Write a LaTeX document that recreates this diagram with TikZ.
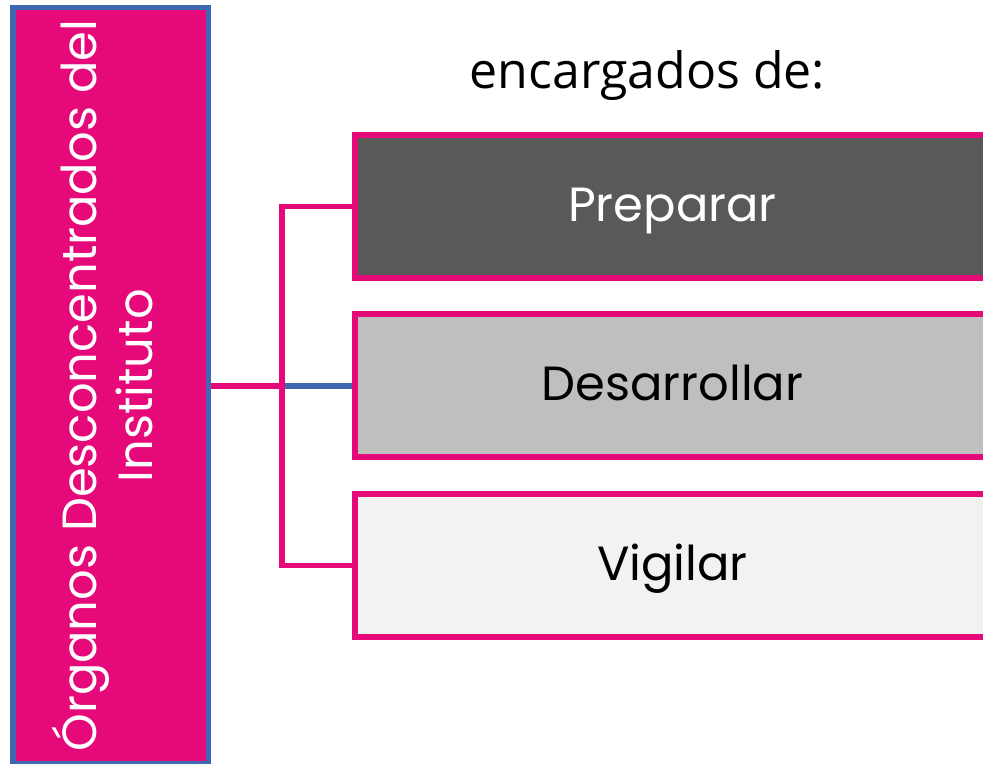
\documentclass[tikz,border=0pt]{standalone}
\usepackage{fontspec}
\usepackage{graphicx}
\setmainfont{Poppins}
\newfontfamily\titlefont{Open Sans}
\usetikzlibrary{positioning}
\definecolor{rosa}{HTML}{E6097A}
\definecolor{azul}{HTML}{4068B0}
\definecolor{grisosc}{HTML}{595959}
\definecolor{grismed}{HTML}{BFBFBF}
\definecolor{grisclr}{HTML}{F2F2F2}
\tikzset{
	organo/.style={draw=azul,fill=rosa,line width=4.2pt,minimum width=146.6pt,minimum height=567.4pt,text=white,inner sep=0pt,font=\fontsize{36}{42}\selectfont},
	tarea/.style={draw=rosa,line width=4.2pt,minimum width=476.25pt,minimum height=107.25pt,inner sep=0pt,text height=26pt,text depth=4pt,font=\fontsize{36}{42}\selectfont},
	titulo/.style={font=\titlefont\fontsize{37.5}{44}\selectfont,anchor=base},
	conn/.style={draw=rosa,line width=4.2pt},
	conn2/.style={draw=azul,line width=4.2pt}
}

\begin{document}
\begin{tikzpicture}[x=0.75pt,y=-0.75pt]
	\useasboundingbox (0,0) rectangle (983,764);
	\clip (0,0) rectangle (983,764);
	%%% organo
	\node[organo] (org) at (110.75,385.75) {\rotatebox{90}{\begin{tabular}{@{}c@{}}Órganos Desconcentrados del\\Instituto\end{tabular}}};
	
	%%% titulo
	\node[titulo] (tit) at (647.5,88) {encargados de:};
	
	%%% tareas
	\node[tarea,fill=grisosc,text=white] (prep) at (672.5,206.5) {Preparar};
	\node[tarea,fill=grismed] (desa) at (672.5,385.75) {Desarrollar};
	\node[tarea,fill=grisclr] (vig) at (672.5,565.5) {Vigilar};
	
	%%% conectores
	\coordinate (bus) at (282,385.75);
	\draw[conn2] (bus) -- (desa.west);
	\draw[conn] (org.east) -- (bus);
	\draw[conn] (prep.west) -| (bus) |- (vig.west);
\end{tikzpicture}
\end{document}
